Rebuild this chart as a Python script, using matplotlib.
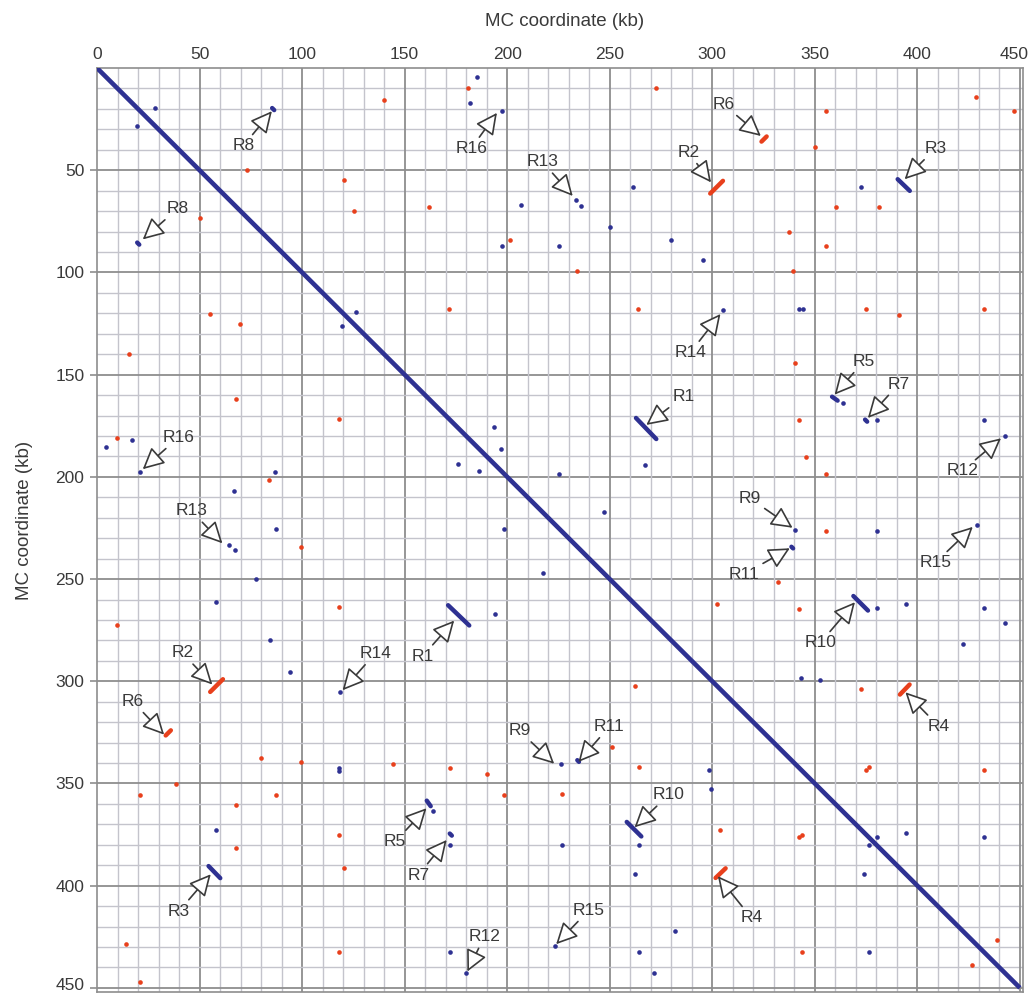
import numpy as np
import matplotlib.pyplot as plt
from matplotlib.transforms import offset_copy

plt.rcParams['font.family'] = ['Liberation Sans', 'DejaVu Sans']

# dots of the upper triangle (x > y); the plot is symmetric, lower half is mirrored
blue_x = [28.4, 185.4, 181.8, 197.4, 206.8, 233.5, 235.8, 261.3, 249.9, 279.8, 197.4,
          225.5, 372.7, 295.4, 126.3, 305.2, 342.3, 344.0, 193.7, 196.9, 267.2, 225.5,
          247.1, 363.7, 380.3, 432.4, 442.6, 340.3, 380.3, 429.3, 380.3, 394.5, 432.4,
          442.6, 422.1, 343.4, 352.7, 380.3, 394.5, 432.4]
blue_y = [19.4, 4.4, 17.0, 20.8, 67.0, 64.5, 67.3, 58.2, 77.6, 84.3, 86.9,
          87.1, 58.2, 94.1, 119.4, 118.6, 118.1, 118.1, 175.8, 186.4, 194.3, 198.4,
          217.3, 163.7, 172.1, 172.1, 179.8, 226.1, 226.5, 223.4, 264.4, 262.4, 264.4,
          271.7, 281.9, 298.4, 299.2, 376.3, 374.2, 376.3]

red_x = [73.2, 120.3, 180.8, 139.7, 125.4, 162.1, 201.6, 234.1, 272.4, 428.5, 447.3,
         355.4, 350.2, 360.5, 381.5, 337.4, 355.4, 339.3, 171.5, 263.6, 375.0, 391.2,
         432.4, 340.5, 342.4, 345.5, 355.4, 355.3, 332.2, 302.3, 342.1, 372.7, 375.0,
         432.4, 342.1, 439.0]
red_y = [50.0, 54.9, 9.8, 15.7, 69.8, 68.0, 84.0, 99.3, 9.8, 14.0, 20.9,
         20.9, 38.6, 68.0, 68.0, 80.1, 87.1, 99.3, 118.1, 118.1, 118.1, 120.6,
         118.1, 144.3, 172.1, 190.4, 198.4, 226.5, 251.3, 262.4, 264.5, 303.6, 343.6,
         343.6, 376.3, 426.5]

# repeat segments (upper triangle): direct = blue, inverted = red
direct_x1 = [262.8, 390.4, 358.4, 374.5, 85.4, 368.8, 338.6]
direct_y1 = [171.2, 54.4, 160.8, 172.0, 19.6, 258.3, 234.2]
direct_x2 = [272.7, 396.3, 361.1, 375.5, 86.4, 375.9, 339.4]
direct_y2 = [181.5, 60.1, 162.7, 173.0, 20.6, 265.4, 235.0]

inverted_x1 = [299.0, 391.5, 324.0]
inverted_y1 = [61.4, 306.5, 36.0]
inverted_x2 = [305.2, 396.2, 326.5]
inverted_y2 = [55.2, 301.6, 33.5]

# annotations
ann_labels = ['R8', 'R16', 'R13', 'R2', 'R6', 'R3', 'R14', 'R1', 'R5', 'R7', 'R12',
              'R9', 'R11', 'R15', 'R10', 'R4',
              'R8', 'R16', 'R13', 'R2', 'R6', 'R3', 'R14', 'R1', 'R9', 'R11', 'R10',
              'R5', 'R7', 'R15', 'R12', 'R4']
ann_text_x = [71.3, 182.4, 217.2, 288.3, 305.5, 408.8, 289.3, 285.9, 373.8, 390.9, 421.8,
              318.2, 315.3, 408.8, 352.7, 410.4,
              39.3, 39.7, 46.1, 41.6, 17.4, 40.0, 135.6, 158.8, 205.9, 249.8, 278.7,
              145.4, 156.7, 239.8, 188.8, 319.0]
ann_text_y = [38.1, 39.4, 45.9, 41.2, 17.8, 39.4, 139.2, 160.8, 143.5, 154.6, 197.1,
              210.4, 247.7, 242.0, 281.2, 322.0,
              68.8, 180.7, 216.7, 286.1, 309.8, 412.4, 286.4, 287.7, 324.2, 322.1, 355.6,
              378.4, 394.8, 412.0, 425.0, 415.7]
ann_tip_x = [85.7, 195.4, 232.4, 299.8, 324.2, 393.3, 304.4, 267.3, 359.2, 375.4, 441.3,
             339.7, 338.4, 427.5, 370.0, 393.7,
             21.8, 21.8, 61.6, 56.7, 33.2, 55.9, 119.3, 174.6, 223.4, 234.3, 261.6,
             161.1, 170.9, 223.4, 180.3, 302.3]
ann_tip_y = [20.6, 21.4, 63.1, 56.5, 33.7, 54.9, 119.8, 175.0, 160.3, 171.7, 180.7,
             225.3, 234.6, 224.0, 260.8, 304.9,
             84.3, 196.7, 233.0, 302.1, 326.6, 393.9, 304.9, 269.8, 340.8, 340.0, 371.9,
             361.6, 377.1, 429.1, 442.6, 394.8]

BLUE = '#2e3192'
RED = '#e8401c'
TXT = '#3a3a3a'

fig = plt.figure(figsize=(10.32, 9.94), dpi=100)
ax = fig.add_axes([97 / 1032, 1 - 992 / 994, 926 / 1032, 924 / 994])
ax.set_xlim(0, 451.5)
ax.set_ylim(452, 0)

# grid
for v in range(10, 451, 10):
    if v % 50 == 0:
        c, w = '#8e8e8e', 1.3
    else:
        c, w = '#c4c4cc', 1.0
    ax.axvline(v, color=c, lw=w, zorder=0)
    ax.axhline(v, color=c, lw=w, zorder=0)

# main diagonal
ax.plot([0, 450], [0, 450], color=BLUE, lw=3.3, solid_capstyle='butt', zorder=3)

# dots, mirrored
bx = np.array(blue_x); by = np.array(blue_y)
rx = np.array(red_x); ry = np.array(red_y)
ax.scatter(np.r_[bx, by], np.r_[by, bx], s=11, color=BLUE, lw=0, zorder=4)
ax.scatter(np.r_[rx, ry], np.r_[ry, rx], s=11, color=RED, lw=0, zorder=4)

# repeat segments
for x1, y1, x2, y2 in zip(direct_x1, direct_y1, direct_x2, direct_y2):
    ax.plot([x1, x2], [y1, y2], color=BLUE, lw=3.2, solid_capstyle='round', zorder=4)
    ax.plot([y1, y2], [x1, x2], color=BLUE, lw=3.2, solid_capstyle='round', zorder=4)
for x1, y1, x2, y2 in zip(inverted_x1, inverted_y1, inverted_x2, inverted_y2):
    ax.plot([x1, x2], [y1, y2], color=RED, lw=3.2, solid_capstyle='round', zorder=4)
    ax.plot([y1, y2], [x1, x2], color=RED, lw=3.2, solid_capstyle='round', zorder=4)

# labels with open arrowheads
for lab, tx, ty, px, py in zip(ann_labels, ann_text_x, ann_text_y, ann_tip_x, ann_tip_y):
    ax.annotate(lab, xy=(px, py), xytext=(tx, ty), ha='center', va='center',
                fontsize=12.5, color=TXT, zorder=6,
                arrowprops=dict(arrowstyle='-|>,head_length=1.1,head_width=0.55',
                                mutation_scale=12, fc='white', ec=TXT, lw=1.2,
                                shrinkA=1, shrinkB=1))

ax.xaxis.tick_top()
ax.set_xticks(range(0, 451, 50))
ax.set_yticks(range(50, 451, 50))
ax.tick_params(axis='x', length=0, pad=4, labelsize=12.5, labelcolor=TXT)
ax.tick_params(axis='y', length=5, width=1.2, color='#8e8e8e', pad=4,
               labelsize=12.5, labelcolor=TXT)
# keep the edge labels inside the picture
last_y = ax.get_yticklabels()[-1]
last_y.set_transform(offset_copy(last_y.get_transform(), fig=fig, y=3, units='points'))
last_x = ax.get_xticklabels()[-1]
last_x.set_transform(offset_copy(last_x.get_transform(), fig=fig, x=-4, units='points'))
for s in ax.spines.values():
    s.set_color('#8e8e8e')
    s.set_linewidth(1.2)

fig.text(565 / 1032, 1 - 21 / 994, 'MC coordinate (kb)', ha='center', va='center',
         fontsize=13.5, color=TXT)
fig.text(25 / 1032, 1 - 520 / 994, 'MC coordinate (kb)', ha='center', va='center',
         rotation=90, fontsize=13.5, color=TXT)

fig.savefig('out.png', dpi=100)
